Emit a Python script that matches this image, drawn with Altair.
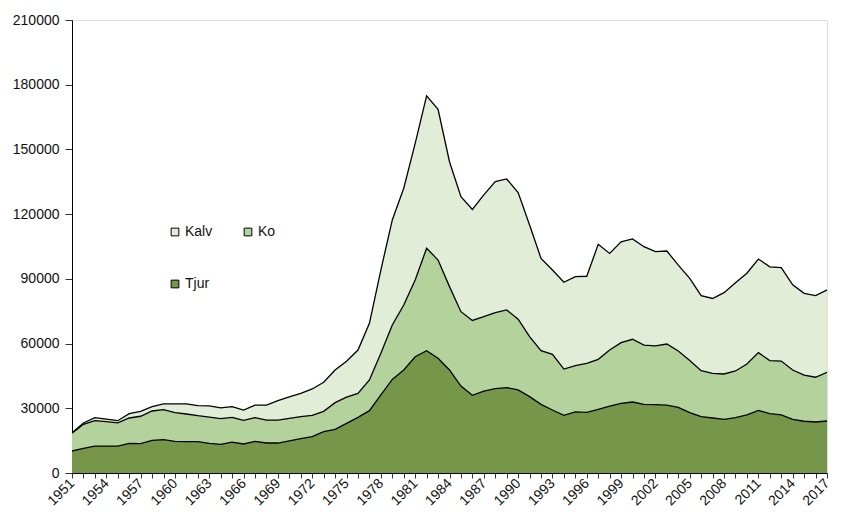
import altair as alt
import pandas as pd

years = list(range(1951, 2019))

tjur = [10200, 11450, 12500, 12500, 12500, 13750, 13600, 15150, 15450, 14700,
        14500, 14500, 13750, 13300, 14350, 13450, 14700, 13900, 13900, 14850,
        15900, 16850, 19150, 20250, 23000, 25800, 28900, 36200, 43400, 47750,
        53900, 56700, 53200, 47750, 40300, 36000, 38000, 39100, 39600, 38500,
        35400, 31800, 29200, 26700, 28300, 28100, 29500, 31050, 32300, 32900,
        31800, 31700, 31500, 30400, 28000, 26100, 25500, 24900, 25650, 26900,
        29050, 27500, 26900, 24900, 24000, 23650, 24100, 24400]

ko = [8200, 11100, 11750, 11300, 10700, 11750, 12700, 13600, 13900, 13250,
      12850, 12050, 12150, 11900, 11450, 10950, 10950, 10650, 10650, 10500,
      10200, 9900, 9450, 12350, 12200, 11100, 14200, 19300, 25200, 30150,
      35600, 47500, 45500, 38650, 34500, 34700, 34500, 35200, 36000, 32800,
      27800, 24900, 25800, 21500, 21500, 22700, 23200, 25950, 28100, 29100,
      27500, 27200, 28300, 26200, 24100, 21300, 20700, 21000, 21650, 23600,
      26750, 24600, 25000, 22850, 21400, 20750, 22600, 23200]

kalv = [200, 650, 1400, 1200, 1050, 2000, 2300, 2000, 2650, 4050,
        4650, 4650, 5200, 4950, 4950, 4800, 5850, 6950, 8950, 9900,
        10850, 12200, 13450, 15150, 16600, 20100, 26300, 38600, 48700, 54100,
        63300, 70600, 69900, 57900, 53300, 51500, 56400, 60800, 60700, 58700,
        51800, 42800, 39100, 40200, 41200, 40400, 53300, 44800, 46800, 46500,
        45600, 43700, 43100, 39800, 38100, 34800, 34700, 37700, 40900, 42100,
        43400, 43500, 43300, 39450, 37900, 37800, 38100, 35400]

# legend is filled column by column: Kalv / Tjur in the first column, Ko in the second
legend_order = ["Kalv", "Tjur", "Ko"]
legend_colors = ["#E2EDD8", "#76964A", "#B4D29C"]
stack_rank = {"Tjur": 0, "Ko": 1, "Kalv": 2}

y_ticks = [0, 30000, 60000, 90000, 120000, 150000, 180000, 210000]
x_ticks = list(range(1951, 2018))

rows = []
for i, yr in enumerate(years):
    for name, series in (("Tjur", tjur), ("Ko", ko), ("Kalv", kalv)):
        rows.append({"year": yr, "kategori": name, "antal": series[i],
                     "ordning": stack_rank[name]})
df = pd.DataFrame(rows)

x_enc = alt.X(
    "year:Q",
    scale=alt.Scale(domain=[1951, 2017], nice=False, zero=False),
    axis=alt.Axis(
        values=x_ticks,
        labelExpr="(datum.value - 1951) % 3 == 0 ? '' + datum.value : ''",
        labelOverlap=False,
        labelAngle=-45,
        labelAlign="right",
        labelBaseline="middle",
        labelFont="Liberation Sans",
        labelFontSize=14,
        labelColor="#111111",
        labelPadding=3,
        tickSize=5,
        tickColor="#333333",
        domainColor="#000000",
        domainWidth=1,
        grid=False,
        title=None,
    ),
)

y_enc = alt.Y(
    "y1:Q",
    scale=alt.Scale(domain=[0, 210000], nice=False),
    axis=alt.Axis(
        values=y_ticks,
        format="d",
        labelFont="Liberation Sans",
        labelFontSize=14,
        labelColor="#111111",
        labelPadding=6,
        tickSize=7,
        tickColor="#333333",
        domainColor="#000000",
        domainWidth=1,
        grid=False,
        title=None,
    ),
)

base = alt.Chart(df).transform_stack(
    stack="antal",
    groupby=["year"],
    as_=["y0", "y1"],
    sort=[alt.SortField("ordning", order="ascending")],
)

area = base.mark_area(clip=True, interpolate="linear").encode(
    x=x_enc,
    y=y_enc,
    y2="y0:Q",
    color=alt.Color(
        "kategori:N",
        scale=alt.Scale(domain=legend_order, range=legend_colors),
        legend=alt.Legend(
            title=None,
            orient="none",
            legendX=96,
            legendY=205,
            columns=2,
            columnPadding=28,
            rowPadding=38,
            padding=0,
            symbolType="square",
            symbolSize=60,
            symbolStrokeColor="black",
            symbolStrokeWidth=1,
            labelFont="Liberation Sans",
            labelFontSize=14,
            labelColor="#111111",
            labelOffset=3,
        ),
    ),
)

line = base.mark_line(clip=True, color="black", strokeWidth=1.3).encode(
    x=x_enc,
    y=y_enc,
    detail="kategori:N",
    order="year:Q",
)

chart = (
    alt.layer(area, line)
    .properties(
        width=755,
        height=453,
        autosize=alt.AutoSizeParams(type="none"),
        padding={"left": 64, "top": 12, "right": 6, "bottom": 36},
    )
    .configure_view(stroke=None)
    .configure_axis(labelOverlap=False)
    .configure(background="white")
)

chart.save("out.html", embed_options={"renderer": "svg", "actions": False})
